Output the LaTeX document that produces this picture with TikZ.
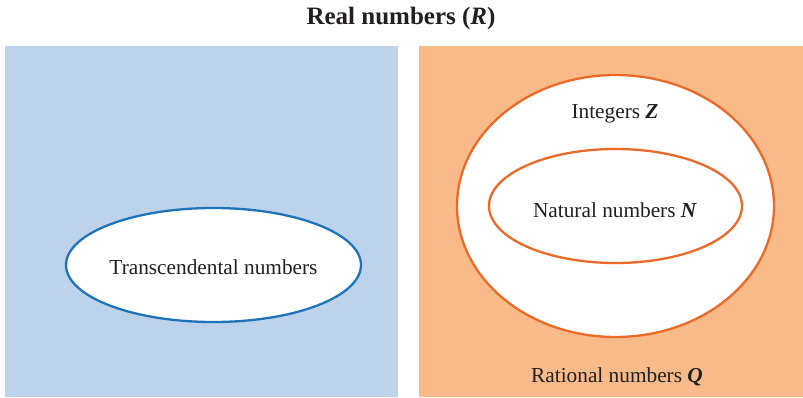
\documentclass[tikz,border=0pt]{standalone}
\usepackage{fontspec}
\setmainfont{Liberation Serif}
\usetikzlibrary{shapes.geometric}
\definecolor{bluefill}{HTML}{BDD3EC}
\definecolor{blueline}{HTML}{1E73BA}
\definecolor{orangefill}{HTML}{F7BA88}
\definecolor{orangeline}{HTML}{EC6A28}
\definecolor{txt}{HTML}{231F20}
\begin{document}
\begin{tikzpicture}[x=1pt,y=-1pt,
  oval/.style={ellipse, fill=white, line width=2.3pt, inner sep=0pt},
  lbl/.style={text=txt, font=\fontsize{21.3}{24}\selectfont, inner sep=0pt}]
  \useasboundingbox (0,0) rectangle (803,397);
  % the two halves of the real line
  \fill[bluefill] (5,46) rectangle (398,397);
  \fill[orangefill] (419,46) rectangle (803,397);
  \node[lbl, font=\fontsize{25}{28}\selectfont\bfseries] (title) at (401,18) {Real numbers (\textit{R})};
  % irrational side
  \node[oval, draw=blueline, minimum width=295, minimum height=114] (trans) at (213.5,265) {};
  \node[lbl] (translbl) at (213.5,267) {Transcendental numbers};
  % rational side: Q contains Z contains N
  \node[oval, draw=orangeline, minimum width=317, minimum height=262] (ints) at (615.5,206) {};
  \node[oval, draw=orangeline, minimum width=253, minimum height=114] (nats) at (615.5,206) {};
  \node[lbl] (intlbl) at (615,114) {Integers \textbf{\textit{Z}}};
  \node[lbl] (natlbl) at (615,210) {Natural numbers \textbf{\textit{N}}};
  \node[lbl] (ratlbl) at (617,377) {Rational numbers \textbf{\textit{Q}}};
\end{tikzpicture}
\end{document}
